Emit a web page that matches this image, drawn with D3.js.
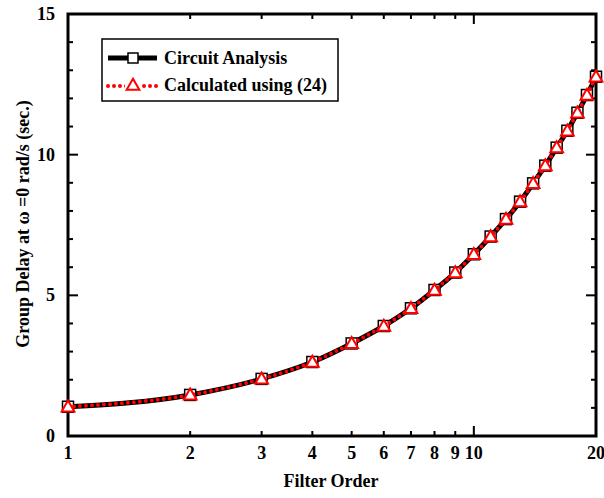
<!DOCTYPE html>
<html>
<head>
<meta charset="utf-8">
<script src="https://cdn.jsdelivr.net/npm/d3@7"></script>
<style>
  body{margin:0;background:#fff;}
  text{font-family:"Liberation Serif","Times New Roman",serif;font-weight:bold;}
</style>
</head>
<body>
<div id="chart"></div>
<script>
// data
const orders = [1,2,3,4,5,6,7,8,9,10,11,12,13,14,15,16,17,18,19,20];
const circuitDelay = [1.04,1.46,2.03,2.63,3.29,3.91,4.54,5.19,5.81,6.46,7.09,7.71,8.33,8.98,9.61,10.25,10.85,11.49,12.12,12.77];
const calcDelay = [1.04,1.46,2.03,2.63,3.29,3.91,4.54,5.19,5.81,6.46,7.09,7.71,8.33,8.98,9.61,10.25,10.85,11.49,12.12,12.77];
const xTicks = [1,2,3,4,5,6,7,8,9,10,20];
const yTicks = [0,5,10,15];
const seriesNames = ["Circuit Analysis","Calculated using (24)"];

const w=604, h=498;
const m={left:68,right:8,top:14,bottom:62};

const svg=d3.select("#chart").append("svg")
  .attr("width",w).attr("height",h);

const x=d3.scaleLog().domain([1,20]).range([m.left,w-m.right]);
const y=d3.scaleLinear().domain([0,15]).range([h-m.bottom,m.top]);

const x0=m.left, x1=w-m.right, y0=h-m.bottom, y1=m.top;

// ticks point inward on all four sides
const ticks=svg.append("g").attr("stroke","#000").attr("stroke-width",2);
xTicks.forEach(t=>{
  const len=(t==1||t==10)?10:5;
  ticks.append("line").attr("x1",x(t)).attr("x2",x(t)).attr("y1",y0).attr("y2",y0-len);
  ticks.append("line").attr("x1",x(t)).attr("x2",x(t)).attr("y1",y1).attr("y2",y1+len);
});
d3.range(0,16).forEach(t=>{
  const len=(t%5==0)?10:5;
  ticks.append("line").attr("x1",x0).attr("x2",x0+len).attr("y1",y(t)).attr("y2",y(t));
  ticks.append("line").attr("x1",x1).attr("x2",x1-len).attr("y1",y(t)).attr("y2",y(t));
});

// frame
svg.append("rect").attr("x",x0).attr("y",y1)
  .attr("width",x1-x0).attr("height",y0-y1)
  .attr("fill","none").attr("stroke","#000").attr("stroke-width",3);

// tick labels
svg.append("g").selectAll("text").data(xTicks).enter().append("text")
  .attr("x",d=>x(d)).attr("y",y0+23)
  .attr("text-anchor","middle").attr("font-size",18)
  .text(d=>d);
svg.append("g").selectAll("text").data(yTicks).enter().append("text")
  .attr("x",x0-13).attr("y",d=>y(d)+6)
  .attr("text-anchor","end").attr("font-size",18)
  .text(d=>d);

// axis titles
svg.append("text").attr("x",331).attr("y",h-11)
  .attr("text-anchor","middle").attr("font-size",18)
  .text("Filter Order");
svg.append("text")
  .attr("transform","translate(29,"+224+") rotate(-90)")
  .attr("text-anchor","middle").attr("font-size",18)
  .text("Group Delay at \u03c9 =0 rad/s (sec.)");

const line=d3.line().x(d=>x(d[0])).y(d=>y(d[1])).curve(d3.curveMonotoneX);
const blackData=orders.map((o,i)=>[o,circuitDelay[i]]);
const redData=orders.map((o,i)=>[o,calcDelay[i]]);

// black series
svg.append("path").datum(blackData).attr("d",line)
  .attr("fill","none").attr("stroke","#000").attr("stroke-width",5);
svg.append("g").selectAll("rect").data(blackData).enter().append("rect")
  .attr("x",d=>x(d[0])-5.5).attr("y",d=>y(d[1])-5.5)
  .attr("width",11).attr("height",11)
  .attr("fill","#fff").attr("stroke","#000").attr("stroke-width",1.5);

// red series
svg.append("path").datum(redData).attr("d",line)
  .attr("fill","none").attr("stroke","#f00").attr("stroke-width",4)
  .attr("stroke-linecap","round").attr("stroke-dasharray","0,6");
const tri=d3.symbol().type(d3.symbolTriangle).size(70);
svg.append("g").selectAll("path").data(redData).enter().append("path")
  .attr("d",tri)
  .attr("transform",d=>"translate("+x(d[0])+","+(y(d[1])+1)+")")
  .attr("fill","#fff").attr("stroke","#f00").attr("stroke-width",2);

// legend
const lg=svg.append("g");
lg.append("rect").attr("x",102).attr("y",39).attr("width",236).attr("height",62)
  .attr("fill","#fff").attr("stroke","#000").attr("stroke-width",1.5);
lg.append("line").attr("x1",108).attr("x2",157).attr("y1",58).attr("y2",58)
  .attr("stroke","#000").attr("stroke-width",5);
lg.append("rect").attr("x",128).attr("y",53).attr("width",10).attr("height",10)
  .attr("fill","#fff").attr("stroke","#000").attr("stroke-width",1.5);
lg.append("line").attr("x1",108).attr("x2",157).attr("y1",86).attr("y2",86)
  .attr("stroke","#f00").attr("stroke-width",4)
  .attr("stroke-linecap","round").attr("stroke-dasharray","0,6");
lg.append("rect").attr("x",125).attr("y",79).attr("width",16).attr("height",14).attr("fill","#fff");
lg.append("path").attr("d",tri).attr("transform","translate(133,86)")
  .attr("fill","#fff").attr("stroke","#f00").attr("stroke-width",2);
lg.selectAll("text.lab").data(seriesNames).enter().append("text")
  .attr("x",164).attr("y",(d,i)=>64+i*27)
  .attr("font-size",18).text(d=>d);
</script>
</body>
</html>
